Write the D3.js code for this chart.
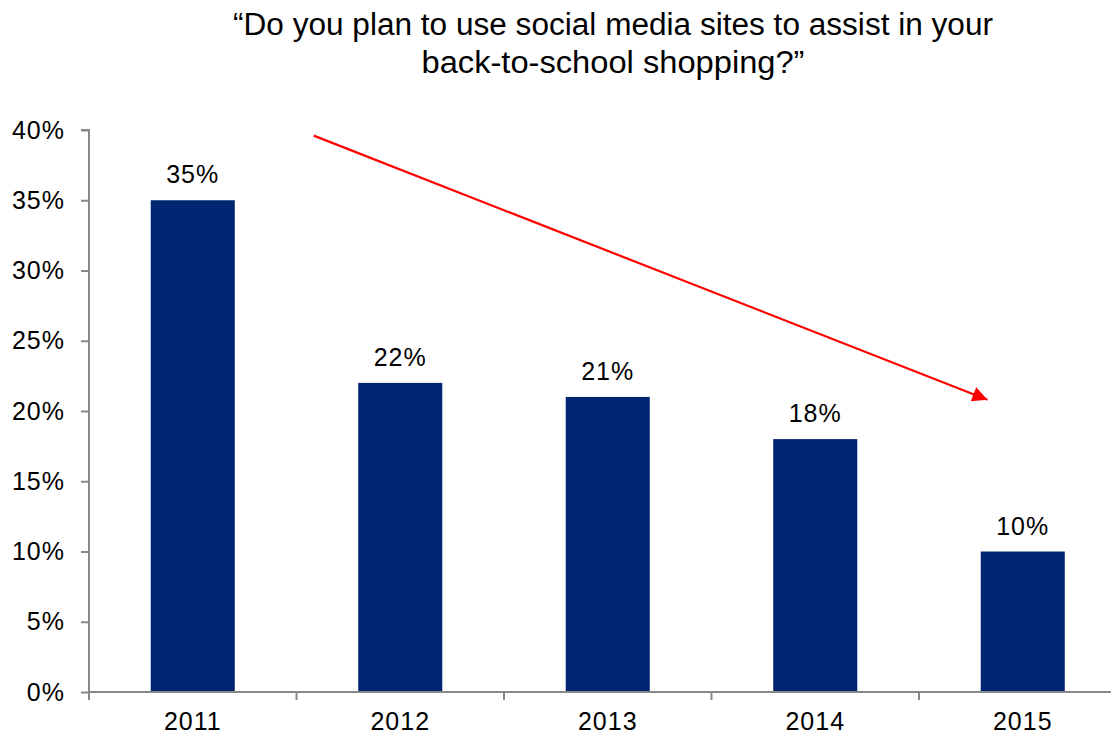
<!DOCTYPE html>
<html>
<head>
<meta charset="utf-8">
<script src="https://cdn.jsdelivr.net/npm/d3@7"></script>
<style>
  html, body { margin: 0; padding: 0; background: #fff; }
  svg { display: block; }
  text { font-family: "Liberation Sans", Arial, sans-serif; fill: #000; }
</style>
</head>
<body>
<svg id="chart" width="1111" height="737"></svg>
<script>
// Survey results by year
const years = ["2011", "2012", "2013", "2014", "2015"];
const shares = [35, 22, 21, 18, 10];
const yTicks = [0, 5, 10, 15, 20, 25, 30, 35, 40];
const titleLines = [
  "\u201CDo you plan to use social media sites to assist in your",
  "back-to-school shopping?\u201D"
];
// Trend arrow endpoints, in category-index / percent units
const trendFrom = { idx: 0.583, pct: 39.6 };
const trendTo = { idx: 3.83, pct: 20.8 };

const svg = d3.select("#chart");
const margin = { left: 89, top: 130, bottom: 45 };
const plotW = 5 * 207.5;
const plotH = 737 - margin.top - margin.bottom;
const labelFont = 25;
const labelSpacing = "1px";

const g = svg.append("g").attr("transform", `translate(${margin.left},${margin.top})`);

const x = d3.scaleBand().domain(years).range([0, plotW]).paddingInner(0.595).paddingOuter(0.2975);
const xIdx = d3.scaleLinear().domain([0, years.length - 1])
  .range([x(years[0]) + x.bandwidth() / 2, x(years[years.length - 1]) + x.bandwidth() / 2]);
const y = d3.scaleLinear().domain([0, 40]).range([plotH, 0]);

// Title
svg.append("g").selectAll("text").data(titleLines).join("text")
  .attr("x", 613).attr("y", (d, i) => 35 + i * 38)
  .attr("text-anchor", "middle")
  .attr("font-size", 31)
  .attr("textLength", (d, i) => i === 0 ? 760 : 383)
  .attr("lengthAdjust", "spacingAndGlyphs")
  .text(d => d);

// Bars
g.selectAll("rect.bar").data(shares).join("rect")
  .attr("class", "bar")
  .attr("x", (d, i) => x(years[i]))
  .attr("y", d => y(d))
  .attr("width", x.bandwidth())
  .attr("height", d => plotH - y(d))
  .attr("fill", "#002671");

// Value labels
g.selectAll("text.val").data(shares).join("text")
  .attr("class", "val")
  .attr("x", (d, i) => x(years[i]) + x.bandwidth() / 2)
  .attr("y", d => y(d) - 17)
  .attr("text-anchor", "middle")
  .attr("font-size", labelFont)
  .attr("letter-spacing", labelSpacing)
  .text(d => d + "%");

// Y axis
const yAxis = g.append("g")
  .call(d3.axisLeft(y).tickValues(yTicks).tickFormat(d => d + "%").tickSize(8).tickPadding(16));
yAxis.select(".domain").attr("stroke", "#888").attr("stroke-width", 2).attr("d", `M-8,0H0V${plotH + 8}`);
yAxis.selectAll(".tick line").attr("stroke", "#888").attr("stroke-width", 2);
yAxis.selectAll(".tick text").attr("font-size", labelFont).attr("fill", "#000")
  .attr("letter-spacing", labelSpacing)
  .attr("font-family", "\"Liberation Sans\", Arial, sans-serif");

// X axis with separator ticks between categories
const xAxis = g.append("g").attr("transform", `translate(0,${plotH})`)
  .call(d3.axisBottom(x).tickSize(0).tickPadding(20));
xAxis.select(".domain").attr("stroke", "#888").attr("stroke-width", 2).attr("d", `M0,0H${plotW}`);
xAxis.selectAll(".tick text").attr("font-size", labelFont).attr("fill", "#000")
  .attr("letter-spacing", labelSpacing)
  .attr("font-family", "\"Liberation Sans\", Arial, sans-serif");
xAxis.selectAll("line.sep").data(d3.range(1, years.length)).join("line")
  .attr("class", "sep")
  .attr("x1", i => x.step() * i).attr("x2", i => x.step() * i)
  .attr("y1", 0).attr("y2", 8)
  .attr("stroke", "#888").attr("stroke-width", 2);

// Trend arrow
svg.append("defs").append("marker")
  .attr("id", "head").attr("viewBox", "0 0 10 10")
  .attr("refX", 10).attr("refY", 5)
  .attr("markerUnits", "userSpaceOnUse")
  .attr("markerWidth", 18).attr("markerHeight", 15)
  .attr("orient", "auto")
  .append("path").attr("d", "M0,0L10,5L0,10Z").attr("fill", "#ff0000");

g.append("line")
  .attr("x1", xIdx(trendFrom.idx)).attr("y1", y(trendFrom.pct))
  .attr("x2", xIdx(trendTo.idx)).attr("y2", y(trendTo.pct))
  .attr("stroke", "#ff0000").attr("stroke-width", 2.2)
  .attr("marker-end", "url(#head)");
</script>
</body>
</html>
